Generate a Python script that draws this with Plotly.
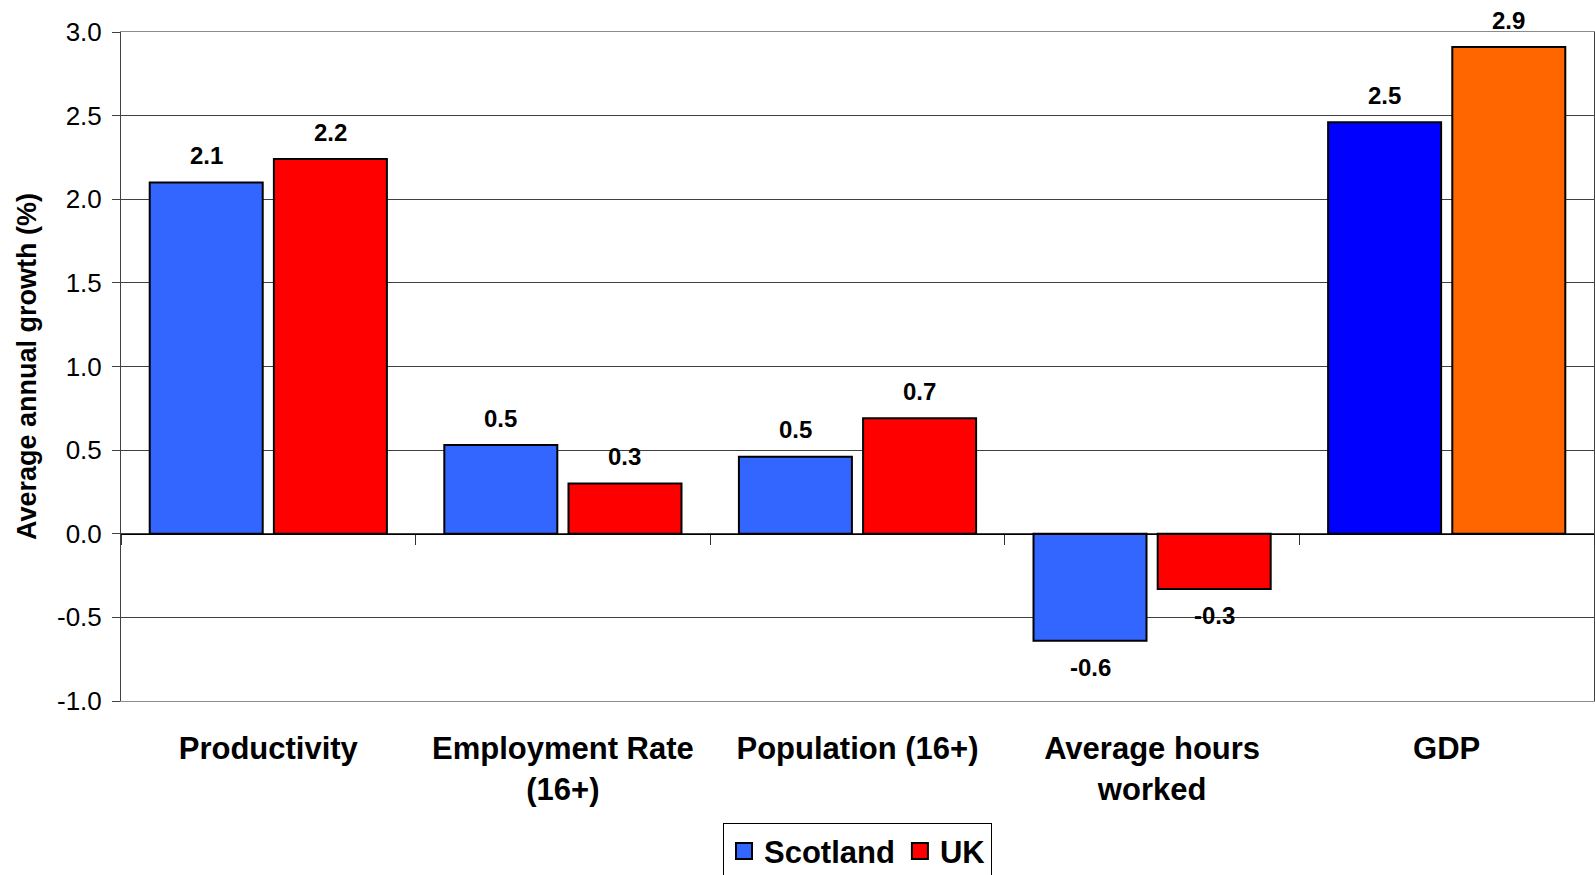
import plotly.graph_objects as go

# Average annual growth, Scotland vs UK
categories = ["Productivity", "Employment Rate<br>(16+)", "Population (16+)",
              "Average hours<br>worked", "GDP"]
scotland = [2.10, 0.53, 0.46, -0.64, 2.46]
uk = [2.24, 0.30, 0.69, -0.33, 2.91]

scotland_colors = ["#3366FF", "#3366FF", "#3366FF", "#3366FF", "#0000FF"]
uk_colors = ["#FF0000", "#FF0000", "#FF0000", "#FF0000", "#FF6600"]

y_ticks = [-1.0, -0.5, 0.0, 0.5, 1.0, 1.5, 2.0, 2.5, 3.0]

FONT = "Liberation Sans, Arial, sans-serif"
BARGAP = 0.157
BARGROUPGAP = 0.09

fig = go.Figure()
fig.add_trace(go.Bar(
    name="Scotland", x=categories, y=scotland, showlegend=False,
    marker=dict(color=scotland_colors, line=dict(color="black", width=2)),
))
fig.add_trace(go.Bar(
    name="UK", x=categories, y=uk, showlegend=False,
    marker=dict(color=uk_colors, line=dict(color="black", width=2)),
))

# legend entries with larger square swatches
for name, color in (("Scotland", scotland_colors[0]), ("UK", uk_colors[0])):
    fig.add_trace(go.Scatter(
        name=name, x=[None], y=[None], mode="markers",
        marker=dict(symbol="square", size=20, color=color,
                    line=dict(color="black", width=2)),
        hoverinfo="skip",
    ))

# invisible carrier for the axis drawn through y = 0
fig.add_trace(go.Scatter(
    x=categories, y=[0] * len(categories), xaxis="x2", mode="markers",
    marker=dict(opacity=0), showlegend=False, hoverinfo="skip",
))

# value labels above/below each bar
half_slot = (1 - BARGAP) / 4
annotations = []
for series, shift in ((scotland, -half_slot), (uk, half_slot)):
    for i, v in enumerate(series):
        annotations.append(dict(
            x=i + shift, y=v, xref="x", yref="y",
            text=f"<b>{v:.1f}</b>", showarrow=False,
            yanchor="middle", yshift=27 if v >= 0 else -27,
            font=dict(family=FONT, size=24, color="black"),
        ))

fig.update_layout(
    width=1595, height=875,
    margin=dict(l=121, r=1, t=32, b=174, autoexpand=False),
    paper_bgcolor="white", plot_bgcolor="white",
    barmode="group", bargap=BARGAP, bargroupgap=BARGROUPGAP,
    font=dict(family=FONT, color="black"),
    annotations=annotations,
    showlegend=True,
    legend=dict(
        orientation="h", x=0.5, xanchor="center", y=-0.183, yanchor="top",
        bordercolor="black", borderwidth=1, bgcolor="white",
        font=dict(family=FONT, size=31, color="black", weight="bold"),
        itemclick=False, itemdoubleclick=False, itemwidth=30,
    ),
    xaxis=dict(
        categoryorder="array", categoryarray=categories,
        showline=True, linecolor="#8c8c8c", linewidth=1, mirror=True,
        ticks="", showgrid=False, zeroline=False,
        tickfont=dict(family=FONT, size=31, color="black", weight="bold"),
        ticklabelstandoff=20,
    ),
    xaxis2=dict(
        overlaying="x", matches="x", anchor="free", position=0.25,
        categoryorder="array", categoryarray=categories,
        showline=True, linecolor="black", linewidth=1,
        ticks="outside", tickson="boundaries", ticklen=10, tickcolor="#333",
        showticklabels=False, showgrid=False, zeroline=False,
    ),
    yaxis=dict(
        range=[-1.0, 3.0], tickvals=y_ticks,
        ticktext=[f"{v:.1f}" for v in y_ticks],
        showline=True, linecolor="#404040", linewidth=1, mirror=True,
        ticks="outside", ticklen=8, tickcolor="#404040",
        ticklabelstandoff=5,
        showgrid=True, gridcolor="#404040", gridwidth=1,
        zeroline=False,
        tickfont=dict(family=FONT, size=26, color="black"),
        title=dict(text="<b>Average annual growth (%)</b>",
                   font=dict(family=FONT, size=27, color="black"),
                   standoff=12),
    ),
)

fig.write_html("out.html")
